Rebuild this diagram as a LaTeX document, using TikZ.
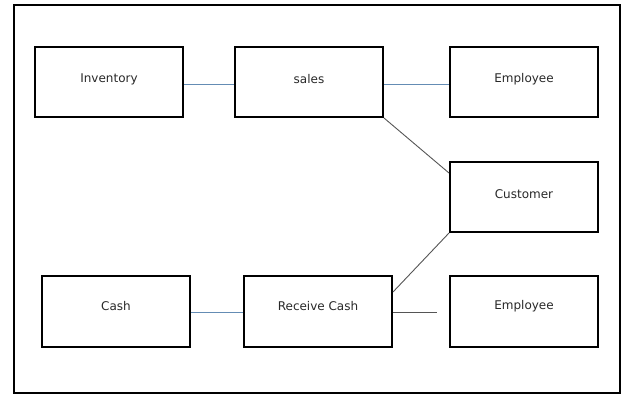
\documentclass[tikz,border=0pt]{standalone}
\usepackage{fontspec}
\setmainfont{DejaVu Sans}
\definecolor{bluelink}{RGB}{100,140,180}
\definecolor{greylink}{RGB}{85,85,85}
\definecolor{txt}{RGB}{40,40,40}
\begin{document}
\begin{tikzpicture}[x=1pt,y=-1pt,
  entity/.style={draw=black,line width=2pt,minimum width=148pt,inner sep=0pt},
  toprow/.style={entity,minimum height=70pt},
  botrow/.style={entity,minimum height=71pt},
  lab/.style={font=\fontsize{12}{14}\selectfont,text=txt,anchor=base},
  blink/.style={draw=bluelink,line width=0.9pt},
  glink/.style={draw=greylink,line width=0.9pt}]
\useasboundingbox (0,0) rectangle (622,396);
\draw[line width=2pt] (14,5) rectangle (620,393);
\node[toprow,label={[lab,yshift=3pt]center:Inventory}] (inv) at (109,82) {};
\node[toprow,label={[lab,yshift=3pt]center:sales}] (sales) at (309,82) {};
\node[toprow,label={[lab,yshift=3pt]center:Employee}] (emp1) at (524,82) {};
\node[toprow,label={[lab,yshift=3pt]center:Customer}] (cust) at (524,197) {};
\node[botrow,label={[lab,yshift=5pt]center:Cash}] (cash) at (116,311.5) {};
\node[botrow,label={[lab,yshift=5.5pt]center:Receive Cash}] (rc) at (318,311.5) {};
\node[botrow,label={[lab,yshift=5pt]center:Employee}] (emp2) at (524,311.5) {};
\coordinate (rcend) at (437,312.5);
\draw[blink] ([yshift=-2pt]inv.east) -- ([yshift=-2pt]sales.west);
\draw[blink] ([yshift=-2pt]sales.east) -- ([yshift=-2pt]emp1.west);
\draw[glink] (sales.south east) -- ([yshift=-12pt]cust.north west);
\draw[glink] ([yshift=-17pt]rc.north east) -- (cust.south west);
\draw[blink] ([yshift=-1pt]cash.east) -- ([yshift=-1pt]rc.west);
\draw[glink] ([yshift=-1pt]rc.east) -- (rcend);
\end{tikzpicture}
\end{document}
